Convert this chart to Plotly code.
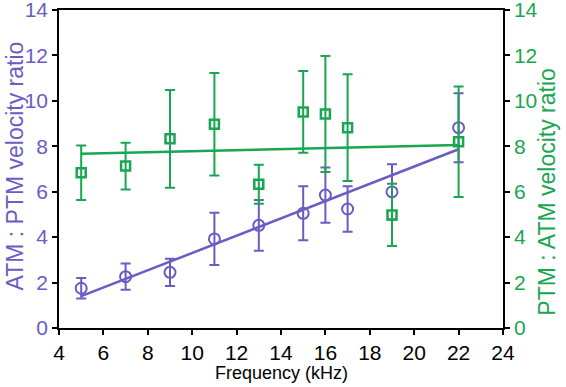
import plotly.graph_objects as go

freq = [5, 7, 9, 11, 13, 15, 16, 17, 19, 22]
atm_ptm = [1.75, 2.26, 2.45, 3.92, 4.52, 5.05, 5.85, 5.24, 5.99, 8.82]
atm_ptm_err = [0.45, 0.58, 0.6, 1.15, 1.12, 1.19, 1.22, 1.0, 1.22, 1.52]
ptm_atm = [6.84, 7.13, 8.33, 8.97, 6.33, 9.51, 9.42, 8.82, 4.98, 8.20]
ptm_atm_err = [1.2, 1.03, 2.15, 2.26, 0.86, 1.8, 2.55, 2.35, 1.37, 2.43]
fit_x = [5, 22]
atm_ptm_fit = [1.4, 7.87]
ptm_atm_fit = [7.67, 8.06]
x_ticks = [4, 6, 8, 10, 12, 14, 16, 18, 20, 22, 24]
y_ticks = [0, 2, 4, 6, 8, 10, 12, 14]

PURPLE = "#6a5cc4"
GREEN = "#18a650"
FONT = "Liberation Sans, Arial, sans-serif"

fig = go.Figure()
fig.add_trace(go.Scatter(x=fit_x, y=ptm_atm_fit, mode="lines", yaxis="y2",
                         line=dict(color=GREEN, width=2.5), showlegend=False))
fig.add_trace(go.Scatter(x=freq, y=ptm_atm, mode="markers", yaxis="y2",
                         marker=dict(symbol="square-open", size=9, color=GREEN,
                                     line=dict(width=2.5, color=GREEN)),
                         error_y=dict(type="data", array=ptm_atm_err, color=GREEN,
                                      thickness=2, width=5),
                         showlegend=False))
fig.add_trace(go.Scatter(x=fit_x, y=atm_ptm_fit, mode="lines",
                         line=dict(color=PURPLE, width=2.5), showlegend=False))
fig.add_trace(go.Scatter(x=freq, y=atm_ptm, mode="markers",
                         marker=dict(symbol="circle-open", size=11, color=PURPLE,
                                     line=dict(width=2, color=PURPLE)),
                         error_y=dict(type="data", array=atm_ptm_err, color=PURPLE,
                                      thickness=2, width=5),
                         showlegend=False))

axis_common = dict(showgrid=False, zeroline=False, showline=True, linecolor="black",
                   linewidth=1.5, ticks="outside", ticklen=5, tickcolor="black",
                   tickwidth=1.5, automargin=False, ticklabeloverflow="allow")

fig.update_layout(
    width=566, height=387,
    margin=dict(l=59, r=63, t=10, b=59, autoexpand=False),
    paper_bgcolor="white", plot_bgcolor="white",
    font=dict(family=FONT, size=21, color="black"),
    xaxis=dict(range=[4, 24], tickvals=x_ticks, mirror=True,
               tickfont=dict(size=21, color="black"), **axis_common),
    yaxis=dict(range=[0, 14], tickvals=y_ticks,
               tickfont=dict(size=21, color=PURPLE), **axis_common),
    yaxis2=dict(range=[0, 14], tickvals=y_ticks, overlaying="y", side="right",
                tickfont=dict(size=21, color=GREEN), **axis_common),
    annotations=[
        dict(text="Frequency (kHz)", xref="paper", yref="paper", x=0.5, y=-0.14,
             xanchor="center", yanchor="middle", showarrow=False,
             font=dict(size=18, color="black")),
        dict(text="ATM : PTM velocity ratio", xref="paper", yref="paper",
             x=-0.1, y=0.51, xanchor="center", yanchor="middle", textangle=-90,
             showarrow=False, font=dict(size=23, color=PURPLE)),
        dict(text="PTM : ATM velocity ratio", xref="paper", yref="paper",
             x=1.1, y=0.43, xanchor="center", yanchor="middle", textangle=-90,
             showarrow=False, font=dict(size=23, color=GREEN)),
    ],
)

fig.write_html("out.html", config={"displayModeBar": False},
               post_script="document.body.style.margin='0';document.body.style.padding='0';")
